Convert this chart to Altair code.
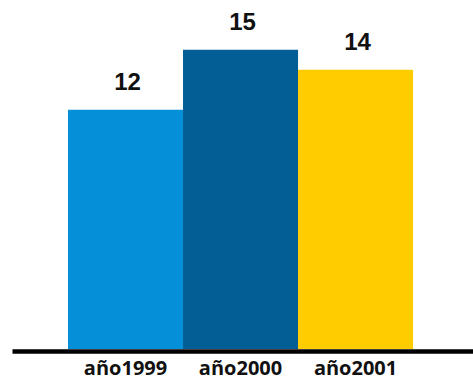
import altair as alt
import pandas as pd

# Yearly totals shown as adjacent bars
years = ["año1999", "año2000", "año2001"]
values = [12, 15, 14]
bar_colors = ["#068fd9", "#035e96", "#ffcc00"]

df = pd.DataFrame({"year": years, "value": values})

x_enc = alt.X(
    "year:N",
    sort=years,
    title=None,
    scale=alt.Scale(paddingInner=0, paddingOuter=0.504, align=0.483),
    axis=alt.Axis(
        labelAngle=0,
        ticks=False,
        grid=False,
        domainColor="#000000",
        domainWidth=4.5,
        offset=2,
        labelPadding=7,
        labelFont="Open Sans",
        labelFontWeight="bold",
        labelFontSize=20,
        labelColor="#111111",
    ),
)
y_enc = alt.Y("value:Q", scale=alt.Scale(domain=[0, 17.5], nice=False, zero=True), axis=None)

base = alt.Chart(df).encode(x=x_enc, y=y_enc)

bars = base.mark_bar(strokeWidth=0).encode(
    color=alt.Color("year:N", scale=alt.Scale(domain=years, range=bar_colors), legend=None)
)

labels = base.mark_text(
    baseline="alphabetic",
    dy=-20,
    dx=2,
    font="Liberation Sans",
    fontWeight="bold",
    fontSize=24,
    color="#111111",
).encode(text=alt.Text("value:Q"))

chart = (
    alt.layer(bars, labels)
    .properties(
        width=461,
        height=349,
        autosize=alt.AutoSizeParams(type="none"),
        padding={"left": 12, "top": 0, "right": 0, "bottom": 31},
        background="white",
    )
    .configure_view(stroke=None)
)

chart.save("out.html", embed_options={"renderer": "svg", "actions": False})
